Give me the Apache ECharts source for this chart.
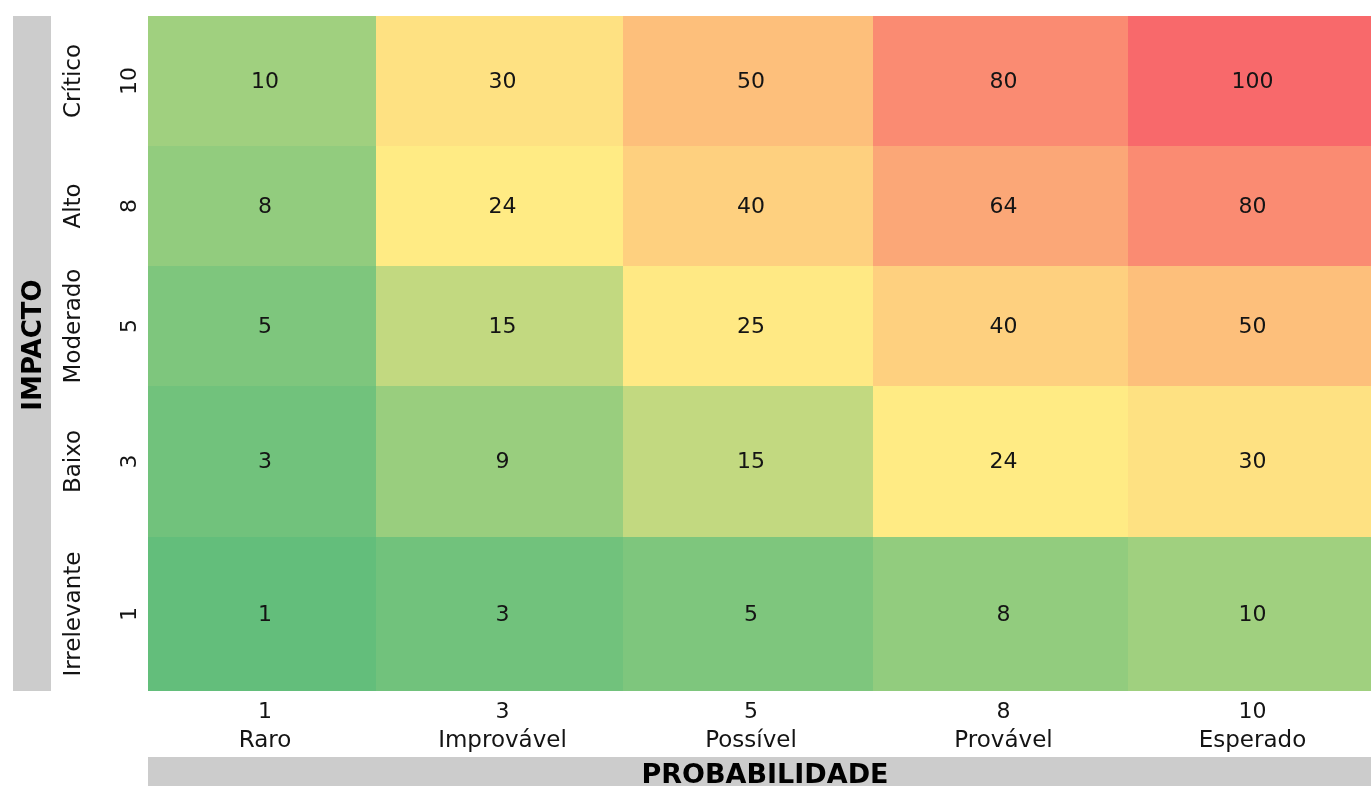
<!DOCTYPE html>
<html>
<head>
<meta charset="utf-8">
<script src="https://cdn.jsdelivr.net/npm/echarts@6/dist/echarts.min.js"></script>
<style>
  html, body { margin: 0; padding: 0; background: #ffffff; }
  #chart { width: 1371px; height: 786px; }
</style>
</head>
<body>
<div id="chart"></div>
<script>
// Risk matrix: probability (columns) x impact (rows)
const probLevels = [1, 3, 5, 8, 10];
const probNames = ['Raro', 'Improvável', 'Possível', 'Provável', 'Esperado'];
const impactLevels = [1, 3, 5, 8, 10];
const impactNames = ['Irrelevante', 'Baixo', 'Moderado', 'Alto', 'Crítico'];

// Scores per impact row (bottom row first), one value per probability column
const scoreImpact1 = [1, 3, 5, 8, 10];
const scoreImpact3 = [3, 9, 15, 24, 30];
const scoreImpact5 = [5, 15, 25, 40, 50];
const scoreImpact8 = [8, 24, 40, 64, 80];
const scoreImpact10 = [10, 30, 50, 80, 100];
const scoreRows = [scoreImpact1, scoreImpact3, scoreImpact5, scoreImpact8, scoreImpact10];

// Layout: cell band sizes in pixels (columns left to right, rows bottom to top)
const COL_W = [228, 247, 250, 255, 243];
const ROW_H = [154, 151, 120, 120, 130];
const FONT = '"DejaVu Sans", sans-serif';

const sum = a => a.reduce((s, v) => s + v, 0);
const colStart = COL_W.map((_, i) => sum(COL_W.slice(0, i)));
const rowStart = ROW_H.map((_, i) => sum(ROW_H.slice(0, i)));

// Three-colour scale: low green, median yellow, high red
const allScores = scoreRows.flat();
const sorted = allScores.slice().sort((a, b) => a - b);
const vMin = sorted[0];
const vMax = sorted[sorted.length - 1];
const vMid = sorted[Math.floor(sorted.length / 2)];
const LOW = [0x63, 0xBE, 0x7B], MID = [0xFF, 0xEB, 0x84], HIGH = [0xF8, 0x69, 0x6B];
function mix(a, b, t) {
  return 'rgb(' + a.map((c, i) => Math.round(c + (b[i] - c) * t)).join(',') + ')';
}
function scoreColor(v) {
  if (v <= vMid) return mix(LOW, MID, (v - vMin) / (vMid - vMin));
  return mix(MID, HIGH, (v - vMid) / (vMax - vMid));
}

const cellData = [];
scoreRows.forEach((row, r) => row.forEach((v, c) => cellData.push([c, r, v])));

const chart = echarts.init(document.getElementById('chart'), null, { renderer: 'canvas' });

chart.setOption({
  animation: false,
  grid: { left: 148, right: 0, top: 16, bottom: 95 },
  xAxis: { type: 'value', min: 0, max: sum(COL_W), show: false },
  yAxis: { type: 'value', min: 0, max: sum(ROW_H), show: false },
  graphic: [
    { type: 'rect', left: 13, top: 16, shape: { width: 38, height: 675 }, style: { fill: '#cccccc' }, z: 0 },
    { type: 'rect', left: 148, top: 757, shape: { width: 1223, height: 40 }, style: { fill: '#cccccc' }, z: 0 },
    {
      type: 'text', x: 34, y: 345, rotation: Math.PI / 2, z: 5,
      style: { text: 'IMPACTO', fill: '#000', font: '900 26px ' + FONT, align: 'center', verticalAlign: 'middle' }
    },
    {
      type: 'text', x: 765, y: 776, z: 5,
      style: { text: 'PROBABILIDADE', fill: '#000', font: '900 27px ' + FONT, align: 'center', verticalAlign: 'middle' }
    }
  ],
  series: [
    {
      // Heatmap cells with their score
      type: 'custom',
      data: cellData,
      renderItem: function (params, api) {
        const c = api.value(0), r = api.value(1), v = api.value(2);
        const p0 = api.coord([colStart[c], rowStart[r] + ROW_H[r]]);
        const p1 = api.coord([colStart[c] + COL_W[c], rowStart[r]]);
        return {
          type: 'group',
          children: [
            { type: 'rect', shape: { x: p0[0], y: p0[1], width: p1[0] - p0[0], height: p1[1] - p0[1] },
              style: { fill: scoreColor(v) } },
            { type: 'text', x: (p0[0] + p1[0]) / 2 + 3, y: (p0[1] + p1[1]) / 2 + 1,
              style: { text: String(v), fill: '#141414', font: '22px ' + FONT, align: 'center', verticalAlign: 'middle' } }
          ]
        };
      }
    },
    {
      // Probability axis labels below the matrix
      type: 'custom',
      data: probLevels.map((lv, i) => [i]),
      renderItem: function (params, api) {
        const i = api.value(0);
        const p = api.coord([colStart[i] + COL_W[i] / 2, 0]);
        return {
          type: 'group',
          children: [
            { type: 'text', x: p[0] + 3, y: p[1] + 21,
              style: { text: String(probLevels[i]), fill: '#141414', font: '22px ' + FONT, align: 'center', verticalAlign: 'middle' } },
            { type: 'text', x: p[0] + 3, y: p[1] + 50,
              style: { text: probNames[i], fill: '#141414', font: '23px ' + FONT, align: 'center', verticalAlign: 'middle' } }
          ]
        };
      }
    },
    {
      // Impact axis labels left of the matrix
      type: 'custom',
      data: impactLevels.map((lv, i) => [i]),
      renderItem: function (params, api) {
        const i = api.value(0);
        const p = api.coord([0, rowStart[i] + ROW_H[i] / 2]);
        return {
          type: 'group',
          children: [
            { type: 'text', x: p[0] - 18, y: p[1], rotation: Math.PI / 2,
              style: { text: String(impactLevels[i]), fill: '#141414', font: '22px ' + FONT, align: 'center', verticalAlign: 'middle' } },
            { type: 'text', x: p[0] - 74, y: p[1], rotation: Math.PI / 2,
              style: { text: impactNames[i], fill: '#141414', font: '23px ' + FONT, align: 'center', verticalAlign: 'middle' } }
          ]
        };
      }
    }
  ]
});
</script>
</body>
</html>
